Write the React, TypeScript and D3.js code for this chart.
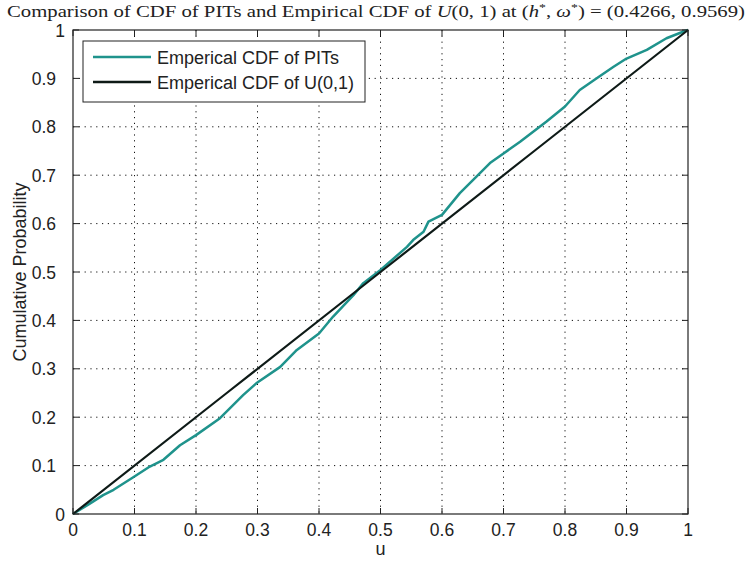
import React from "react";
import * as d3 from "d3";

const pitU = [0, 0.028, 0.049, 0.066, 0.098, 0.125, 0.147, 0.174, 0.2, 0.239, 0.277, 0.298, 0.337, 0.364, 0.4, 0.423, 0.456, 0.472, 0.5, 0.543, 0.553, 0.57, 0.578, 0.6, 0.629, 0.656, 0.678, 0.7, 0.727, 0.77, 0.8, 0.824, 0.851, 0.879, 0.9, 0.933, 0.965, 0.995, 1];
const pitV = [0, 0.022, 0.039, 0.05, 0.076, 0.098, 0.112, 0.142, 0.163, 0.198, 0.246, 0.27, 0.304, 0.339, 0.373, 0.408, 0.452, 0.477, 0.504, 0.552, 0.566, 0.583, 0.604, 0.618, 0.663, 0.697, 0.725, 0.745, 0.769, 0.811, 0.842, 0.876, 0.9, 0.924, 0.941, 0.959, 0.983, 0.998, 1];
const unifU = [0, 0.25, 0.5, 0.75, 1];
const unifV = [0, 0.25, 0.5, 0.75, 1];
const ticks = [0, 0.1, 0.2, 0.3, 0.4, 0.5, 0.6, 0.7, 0.8, 0.9, 1];
const legendLabels = ["Emperical CDF of PITs", "Emperical CDF of U(0,1)"];
const colors = ["#1f938c", "#0e1a17"];

const W = 750, H = 567;
const L = 73, R = 688, T = 30, B = 514;

export default function App() {
  const x = d3.scaleLinear().domain([0, 1]).range([L, R]);
  const y = d3.scaleLinear().domain([0, 1]).range([B, T]);
  const line = d3.line<[number, number]>().x(d => x(d[0])).y(d => y(d[1]));
  const pit = line(pitU.map((u, i) => [u, pitV[i]] as [number, number])) || "";
  const unif = line(unifU.map((u, i) => [u, unifV[i]] as [number, number])) || "";
  const fmt = (t: number) => (t === 0 || t === 1 ? String(t) : t.toFixed(1));
  const font = "'Liberation Sans', Arial, sans-serif";
  return (
    <svg width={W} height={H} style={{ position: "absolute", left: 0, top: 0, background: "#fff" }}>
      <rect x={0} y={0} width={W} height={H} fill="#fff" />
      <text x={376} y={17} textAnchor="middle" fontFamily="'Liberation Serif', 'DejaVu Serif', serif" fontSize={16.5} fill="#222" textLength={738} lengthAdjust="spacingAndGlyphs">
        Comparison of CDF of PITs and Empirical CDF of <tspan fontStyle="italic">U</tspan>(0, 1) at (<tspan fontStyle="italic">h</tspan><tspan dy={-6} fontSize={11}>*</tspan><tspan dy={6}>, </tspan><tspan fontStyle="italic">ω</tspan><tspan dy={-6} fontSize={11}>*</tspan><tspan dy={6}>) = (0.4266, 0.9569)</tspan>
      </text>
      {/* grid */}
      {ticks.slice(1, -1).map(t => (
        <g key={"g" + t}>
          <line x1={x(t)} x2={x(t)} y1={T} y2={B} stroke="#111" strokeWidth={1} strokeDasharray="1.2,4.6" />
          <line x1={L} x2={R} y1={y(t)} y2={y(t)} stroke="#111" strokeWidth={1} strokeDasharray="1.2,4.6" />
        </g>
      ))}
      {/* ticks */}
      {ticks.map(t => (
        <g key={"t" + t} stroke="#222" strokeWidth={1}>
          <line x1={x(t)} x2={x(t)} y1={B} y2={B - 6} />
          <line x1={x(t)} x2={x(t)} y1={T} y2={T + 6} />
          <line x1={L} x2={L + 6} y1={y(t)} y2={y(t)} />
          <line x1={R} x2={R - 6} y1={y(t)} y2={y(t)} />
        </g>
      ))}
      {/* curves */}
      <path d={pit} fill="none" stroke={colors[0]} strokeWidth={2.5} strokeLinejoin="round" />
      <path d={unif} fill="none" stroke={colors[1]} strokeWidth={2.2} />
      <rect x={L} y={T} width={R - L} height={B - T} fill="none" stroke="#222" strokeWidth={1.2} />
      {/* tick labels */}
      {ticks.map(t => (
        <text key={"xl" + t} x={x(t)} y={536} textAnchor="middle" fontFamily={font} fontSize={17.5} fill="#222">{fmt(t)}</text>
      ))}
      {ticks.map(t => (
        <text key={"yl" + t} x={t === 0 || t === 1 ? 65 : 56} y={y(t) + 6.5} textAnchor="end" fontFamily={font} fontSize={17.5} fill="#222">{fmt(t)}</text>
      ))}
      <text x={(L + R) / 2} y={555} textAnchor="middle" fontFamily={font} fontSize={18} fill="#222">u</text>
      <text transform={`translate(26, ${(T + B) / 2}) rotate(-90)`} textAnchor="middle" fontFamily={font} fontSize={18} fill="#222">Cumulative Probability</text>
      {/* legend */}
      <rect x={83} y={41} width={282} height={61} fill="#fff" stroke="#222" strokeWidth={1} />
      {legendLabels.map((lab, i) => (
        <g key={lab}>
          <line x1={93} x2={151} y1={57 + i * 25} y2={57 + i * 25} stroke={colors[i]} strokeWidth={2.5} />
          <text x={157} y={63.5 + i * 25} fontFamily={font} fontSize={18} fill="#222">{lab}</text>
        </g>
      ))}
    </svg>
  );
}
